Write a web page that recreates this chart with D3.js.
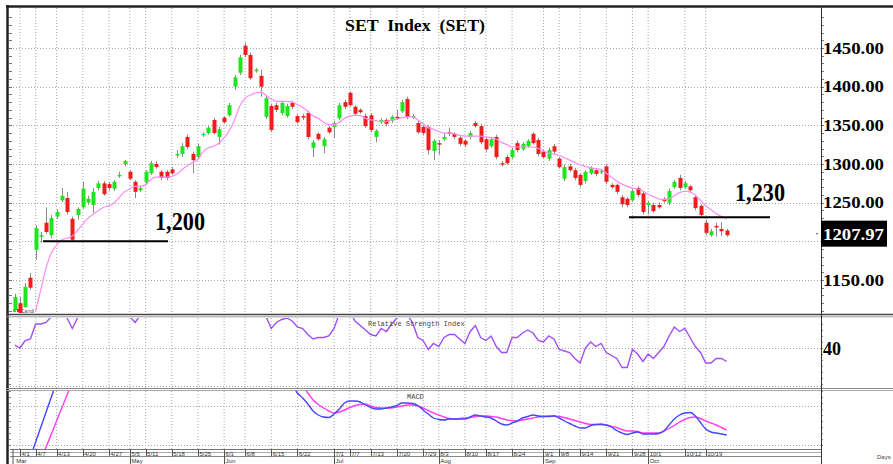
<!DOCTYPE html>
<html><head><meta charset="utf-8">
<script src="https://cdn.jsdelivr.net/npm/d3@7"></script>
<style>html,body{margin:0;padding:0;background:#fff;}svg{display:block;}</style>
</head><body>
<svg id="chart" width="893" height="464"></svg>
<script>
// ---------- DATA ----------
const opens = [1111,1120,1115,1153,1189,1206,1224,1208,1232,1253,1256,1229,1234,1244,1250,1247,1269,1275,1274,1268,
1285,1300,1290,1277,1266,1277,1288,1300,1290,1290,1293,1312,1313,1335,1313,1309,1338,1340,1357,1335,
1360,1363,1400,1418,1453,1441,1420,1414,1361,1375,1376,1366,1362,1379,1362,1362,1366,1321,1339,1323,
1347,1348,1359,1380,1392,1374,1370,1362,1363,1335,1354,1357,1356,1361,1368,1384,1361,1353,1348,1348,
1317,1327,1332,1341,1339,1334,1330,1335,1353,1349,1332,1323,1335,1301,1309,1309,1327,1319,1323,1339,
1331,1316,1307,1323,1307,1281,1297,1292,1286,1278,1288,1292,1290,1297,1273,1273,1257,1255,1253,1269,
1262,1247,1247,1247,1255,1250,1270,1282,1270,1271,1257,1246,1224,1208,1220,1216,1214];
const highs = [1132,1128,1146,1159,1221,1212,1244,1234,1241,1269,1264,1232,1244,1277,1259,1269,1278,1278,1277,1279,
1290,1305,1292,1279,1272,1292,1304,1304,1292,1292,1296,1318,1327,1338,1316,1326,1341,1349,1360,1348,
1362,1379,1415,1441,1457,1444,1424,1422,1388,1378,1379,1382,1378,1382,1365,1365,1369,1331,1341,1335,
1349,1356,1379,1383,1394,1376,1372,1365,1366,1345,1359,1359,1363,1370,1383,1387,1365,1356,1350,1350,
1332,1331,1340,1347,1341,1336,1332,1343,1356,1352,1335,1335,1338,1304,1312,1321,1330,1328,1332,1341,
1334,1318,1321,1326,1309,1299,1300,1295,1288,1292,1297,1295,1293,1300,1275,1275,1260,1257,1268,1271,
1265,1252,1250,1250,1257,1268,1279,1286,1278,1273,1260,1248,1228,1216,1224,1225,1216];
const lows = [1109,1106,1114,1137,1176,1198,1210,1204,1229,1251,1235,1200,1228,1242,1247,1237,1266,1259,1266,1265,
1282,1297,1279,1256,1264,1274,1286,1294,1279,1279,1286,1308,1309,1319,1288,1306,1335,1338,1338,1325,
1352,1361,1396,1415,1438,1409,1418,1387,1358,1341,1367,1363,1360,1371,1352,1357,1332,1309,1330,1314,
1339,1334,1357,1371,1374,1362,1365,1347,1341,1328,1352,1349,1353,1357,1366,1358,1358,1339,1337,1312,
1305,1312,1330,1336,1332,1323,1322,1332,1347,1326,1316,1321,1306,1297,1299,1306,1315,1317,1321,1325,
1310,1307,1304,1313,1294,1278,1290,1279,1270,1275,1286,1284,1287,1274,1268,1261,1244,1244,1251,1257,
1235,1235,1237,1242,1250,1247,1268,1266,1268,1263,1240,1232,1208,1206,1206,1207,1206];
const closes = [1128,1107,1141,1140,1217,1208,1212,1230,1238,1259,1238,1202,1242,1268,1255,1264,1275,1261,1269,1277,
1286,1304,1281,1264,1269,1290,1301,1296,1282,1282,1288,1313,1323,1322,1305,1323,1339,1347,1340,1345,
1354,1376,1412,1438,1441,1411,1422,1400,1385,1344,1370,1379,1375,1374,1354,1360,1335,1328,1332,1332,
1341,1353,1376,1374,1376,1365,1367,1349,1344,1343,1357,1352,1361,1359,1380,1361,1362,1341,1340,1318,
1330,1325,1335,1339,1335,1326,1325,1340,1349,1328,1319,1332,1309,1300,1301,1318,1318,1326,1330,1327,
1313,1309,1318,1316,1296,1296,1292,1282,1273,1290,1295,1287,1291,1277,1270,1264,1248,1247,1265,1260,
1238,1250,1239,1244,1252,1265,1277,1269,1275,1266,1243,1234,1211,1213,1218,1213,1207.97];
const movingAvg = [null,null,null,null,1110,1138,1166,1185,1195,1202,1204,1207,1214,1222,1230,1235,1240,1244,1246,1250,
1257,1264,1268,1271,1271,1273,1280,1283,1283,1283,1284,1287,1293,1298,1302,1306,1316,1321,1323,1327,
1334,1343,1357,1375,1385,1389,1392,1393,1389,1384,1381,1381,1381,1380,1377,1373,1368,1362,1359,1354,
1351,1351,1354,1359,1362,1363,1363,1359,1357,1356,1355,1355,1357,1358,1360,1361,1361,1357,1352,1347,
1345,1342,1340,1340,1339,1337,1336,1336,1336,1336,1335,1334,1332,1328,1325,1322,1322,1322,1322,1322,
1320,1317,1314,1313,1311,1308,1305,1302,1299,1297,1295,1294,1293,1288,1283,1278,1274,1271,1269,1268,
1265,1261,1258,1255,1254,1255,1259,1263,1265,1264,1260,1253,1246,1241,1236,1232,1229];
const rsiValues = [42,40,45,46,56,56,57,61,68,72,60,53,60,70,66,68,67,65,66,68,
72,66,61,57,62,66,66,65,64,63,63,67,69,70,66,68,72,73,70,72,
70,73,78,82,80,74,75,72,61,53,57,59,60,58,54,53,49,46,47,47,
48,53,63,65,64,58,55,52,49,48,53,51,56,60,64,62,57,47,45,39,
43,41,47,49,49,46,43,51,55,47,45,48,41,37,37,47,47,50,52,50,
45,44,48,46,39,38,37,33,30,40,44,41,43,37,35,33,27,27,39,36,
31,36,33,37,41,48,54,51,53,47,41,37,30,30,33,33,31];
const macdValues = [null,null,null,-16,-8.5,-1,6.5,14,21,27,31,34,36,38,39,40,40,40,39,39,
39,40,39,37,36,36,36,36,35,34,33,33,33,33,32,32,33,34,34,34,
34,35,38,42,44,43,42,40,37,33,30,27,24,20,16,13.5,10.5,7,5,4,
3.75,5.5,8,11,12,12,11.5,10,8.75,8,8,8.5,9,9.75,11,11,10.75,9.75,7.5,5.5,
3.5,2.75,2.5,3,3,3,3,4,5,4.5,4,3.5,2,0.5,0,1,2,3.5,4.25,5,
4.5,4.25,4.25,4.5,3.5,2,0.75,-0.5,-1.5,-1.5,-0.25,0.25,0.25,0,-1,-2.75,-4,-4.75,-4,-3.5,
-4.5,-4.5,-4.5,-4.25,-3,0,3,5,6,6.25,4.5,1.25,-2,-3.5,-4,-4.5,-5];
const signalValues = [null,null,null,null,null,-17,-11,-4.5,2,8.5,15,21.5,26,29,31,33,35,36,37,37,
38,38,38,38,37,37,36,36,36,35,35,34,34,33,33,33,33,33,33,34,
34,34,35,37,38,39,40,40,39,38,36,34,31,28,25,19.5,16,12.5,10.25,8.5,
7,6,6.5,7.5,8.75,9.75,10.25,10.5,9.5,8.75,8.5,8.5,8.5,9,9.5,10,10,9.5,8.5,7.25,
6,5,4,3.25,3,3.25,3.5,3.75,4.25,4.5,4.5,4.25,4,3.25,2.5,2.25,2,2.5,3,3.5,
4,4.25,4.5,4.5,4.25,3.75,3,2.25,1.5,0.75,0.25,0.25,0.5,0,-0.75,-1.25,-2.25,-3,-3,-3.25,
-4,-4,-4,-4,-3,-1.75,-0.25,1.5,2.75,3.75,4,3.25,2,1,0,-1.25,-2.5];
const dateTickIndex = [1,4,8,13,18,22,25,30,35,40,44,49,54,61,64,68,73,78,81,86,90,95,101,104,108,113,118,121,128,132];
const dateTickLabels = ["4/1","4/7","4/13","4/20","4/27","5/5","5/11","5/18","5/25","6/1","6/8","6/15","6/22","7/1","7/7","7/13","7/20","7/29","8/3","8/10","8/17","8/24","9/1","9/8","9/14","9/21","9/28","10/1","10/12","10/19"];
const monthTickIndex = [0,22,40,61,81,101,121];
const monthLabels = ["Mar","May","Jun","Jul","Aug","Sep","Oct"];
const priceGridValues = [1150,1200,1250,1300,1350,1400,1450];
const priceTickValues = [1150,1250,1300,1350,1400,1450];
const priceTickLabels = ["1150.00","1250.00","1300.00","1350.00","1400.00","1450.00"];
const lastCloseLabel = "1207.97";
const supportLevels = [1200,1230];
const supportLabels = ["1,200","1,230"];
const rsiTickValues = [40];
const rsiTickLabels = ["40"];
const titleText = "SET  Index  (SET)";

// ---------- LAYOUT ----------
const svg = d3.select("#chart");
const plotL = 10, plotR = 821;
const P = {top: 8, bottom: 313}, R = {top: 318, bottom: 388}, M = {top: 391, bottom: 449};
const n = closes.length;
const x = d3.scaleLinear().domain([0, n - 1]).range([14.7, 726.7]);
const yP = d3.scaleLinear().domain([1150, 1450]).range([280, 48]);
const yR = d3.scaleLinear().domain([14, 60]).range([387, 318]);
const yM = d3.scaleLinear().domain([-12, 17.5]).range([449, 390]);

const defs = svg.append("defs");
function clip(id, top, bottom) {
  defs.append("clipPath").attr("id", id).append("rect")
    .attr("x", plotL).attr("y", top).attr("width", plotR - plotL).attr("height", bottom - top);
}
clip("cp", P.top, P.bottom); clip("cr", R.top, R.bottom); clip("cm", M.top, M.bottom);

const gridColor = "#a8a8a8";
// vertical dotted gridlines
[[P.top, P.bottom], [R.top, R.bottom], [M.top, M.bottom]].forEach(([t, b]) => {
  svg.append("g").selectAll("line").data(dateTickIndex).join("line")
    .attr("x1", d => x(d)).attr("x2", d => x(d)).attr("y1", t).attr("y2", b)
    .attr("stroke", gridColor).attr("stroke-dasharray", "1,2").attr("stroke-width", 1);
});
// horizontal price gridlines
svg.append("g").selectAll("line").data(priceGridValues).join("line")
  .attr("x1", plotL).attr("x2", plotR).attr("y1", d => Math.round(yP(d)) + 0.5).attr("y2", d => Math.round(yP(d)) + 0.5)
  .attr("stroke", gridColor).attr("stroke-dasharray", "1,2");
// RSI gridlines
svg.append("g").selectAll("line").data([40, 14.7]).join("line")
  .attr("x1", plotL).attr("x2", plotR).attr("y1", d => Math.round(yR(d)) + 0.5).attr("y2", d => Math.round(yR(d)) + 0.5)
  .attr("stroke", gridColor).attr("stroke-dasharray", "1,2");
// MACD gridlines
svg.append("g").selectAll("line").data([9.5, -10]).join("line")
  .attr("x1", plotL).attr("x2", plotR).attr("y1", d => Math.round(yM(d)) + 0.5).attr("y2", d => Math.round(yM(d)) + 0.5)
  .attr("stroke", gridColor).attr("stroke-dasharray", "1,2");

// minor ticks on left and right price axes
const minorP = d3.range(1110, 1500, 10);
svg.append("g").selectAll("line").data(minorP).join("line")
  .attr("x1", 9).attr("x2", 12).attr("y1", d => Math.round(yP(d)) + 0.5).attr("y2", d => Math.round(yP(d)) + 0.5)
  .attr("stroke", "#777");
svg.append("g").selectAll("line").data(minorP).join("line")
  .attr("x1", plotR).attr("x2", plotR + 3).attr("y1", d => Math.round(yP(d)) + 0.5).attr("y2", d => Math.round(yP(d)) + 0.5)
  .attr("stroke", "#777");
svg.append("g").selectAll("line").data(d3.range(16, 60, 4)).join("line")
  .attr("x1", plotR).attr("x2", plotR + 2).attr("y1", d => Math.round(yR(d)) + 0.5).attr("y2", d => Math.round(yR(d)) + 0.5)
  .attr("stroke", "#888");
svg.append("g").selectAll("line").data(d3.range(-10, 18, 3)).join("line")
  .attr("x1", plotR).attr("x2", plotR + 2).attr("y1", d => Math.round(yM(d)) + 0.5).attr("y2", d => Math.round(yM(d)) + 0.5)
  .attr("stroke", "#888");
svg.append("g").selectAll("line").data(d3.range(16, 60, 4)).join("line")
  .attr("x1", 9).attr("x2", 11).attr("y1", d => Math.round(yR(d)) + 0.5).attr("y2", d => Math.round(yR(d)) + 0.5)
  .attr("stroke", "#888");
svg.append("g").selectAll("line").data(d3.range(-10, 18, 3)).join("line")
  .attr("x1", 9).attr("x2", 11).attr("y1", d => Math.round(yM(d)) + 0.5).attr("y2", d => Math.round(yM(d)) + 0.5)
  .attr("stroke", "#888");

// ---------- CANDLES ----------
const candles = d3.range(n).map(i => ({i, o: opens[i], h: highs[i], l: lows[i], c: closes[i]}));
const gc = svg.append("g").attr("clip-path", "url(#cp)");
gc.selectAll("line.w").data(candles).join("line").attr("class", "w")
  .attr("x1", d => Math.round(x(d.i)) + 0.5).attr("x2", d => Math.round(x(d.i)) + 0.5)
  .attr("y1", d => yP(d.h)).attr("y2", d => yP(d.l))
  .attr("stroke", "#8a8a8a").attr("stroke-width", 1);
gc.selectAll("rect").data(candles).join("rect")
  .attr("x", d => Math.round(x(d.i)) - 1.5).attr("width", 4)
  .attr("y", d => yP(Math.max(d.o, d.c)))
  .attr("height", d => Math.max(1.5, Math.abs(yP(d.o) - yP(d.c))))
  .attr("fill", d => d.c >= d.o ? "#1ee61e" : "#f21c1c");

// moving average
const maPts = movingAvg.map((v, i) => ({i, v}));
gc.append("path").datum(maPts)
  .attr("d", d3.line().defined(d => d.v != null).x(d => x(d.i)).y(d => yP(d.v)).curve(d3.curveMonotoneX))
  .attr("fill", "none").attr("stroke", "#ff8cf5").attr("stroke-width", 1.2);

// support lines
svg.append("line").attr("x1", 43).attr("x2", 168).attr("y1", yP(supportLevels[0])).attr("y2", yP(supportLevels[0]))
  .attr("stroke", "#000").attr("stroke-width", 2);
svg.append("line").attr("x1", 629).attr("x2", 770).attr("y1", yP(supportLevels[1]) - 1).attr("y2", yP(supportLevels[1]) - 1)
  .attr("stroke", "#000").attr("stroke-width", 2);
const serif = "'Liberation Serif','Times New Roman',serif";
svg.append("text").attr("x", 155).attr("y", 230).attr("font-family", serif).attr("font-weight", "bold")
  .attr("font-size", 25).attr("textLength", 50).attr("lengthAdjust", "spacingAndGlyphs").text(supportLabels[0]);
svg.append("text").attr("x", 735).attr("y", 201).attr("font-family", serif).attr("font-weight", "bold")
  .attr("font-size", 25).attr("textLength", 50).attr("lengthAdjust", "spacingAndGlyphs").text(supportLabels[1]);

// title
svg.append("text").attr("x", 345).attr("y", 31).attr("font-family", serif).attr("font-weight", "bold")
  .attr("font-size", 16).attr("textLength", 140).attr("lengthAdjust", "spacingAndGlyphs")
  .attr("xml:space", "preserve").style("white-space", "pre").text(titleText);

// legend stub
svg.append("rect").attr("x", 13).attr("y", 309).attr("width", 3).attr("height", 3).attr("fill", "#1ee61e");
svg.append("rect").attr("x", 17).attr("y", 309).attr("width", 3).attr("height", 3).attr("fill", "#f21c1c");
svg.append("text").attr("x", 21).attr("y", 313).attr("font-family", "Arial, 'Liberation Sans', sans-serif")
  .attr("font-size", 5).attr("fill", "#555").text("Candl");

// ---------- RSI ----------
const gr = svg.append("g").attr("clip-path", "url(#cr)");
gr.append("path").datum(rsiValues.map((v, i) => ({i, v})))
  .attr("d", d3.line().x(d => x(d.i)).y(d => yR(d.v)))
  .attr("fill", "none").attr("stroke", "#a24ef2").attr("stroke-width", 1.4);
svg.append("text").attr("x", 368).attr("y", 326).attr("font-family", "'Liberation Mono','DejaVu Sans Mono',monospace")
  .attr("font-size", 7).attr("fill", "#444").text("Relative Strength Index");

// ---------- MACD ----------
const gm = svg.append("g").attr("clip-path", "url(#cm)");
const macdLine = d3.line().defined(d => d.v != null).x(d => x(d.i)).y(d => yM(d.v)).curve(d3.curveMonotoneX);
gm.append("path").datum(signalValues.map((v, i) => ({i, v})))
  .attr("d", macdLine).attr("fill", "none").attr("stroke", "#ff3cf0").attr("stroke-width", 1.4);
gm.append("path").datum(macdValues.map((v, i) => ({i, v})))
  .attr("d", macdLine).attr("fill", "none").attr("stroke", "#4646ff").attr("stroke-width", 1.4);
svg.append("text").attr("x", 407).attr("y", 399).attr("font-family", "'Liberation Mono','DejaVu Sans Mono',monospace")
  .attr("font-size", 7).attr("fill", "#444").text("MACD");

// ---------- FRAME ----------
svg.append("line").attr("x1", 6).attr("x2", 893).attr("y1", 6.5).attr("y2", 6.5).attr("stroke", "#222").attr("stroke-width", 2.5);
svg.append("line").attr("x1", 7.5).attr("x2", 7.5).attr("y1", 5).attr("y2", 464).attr("stroke", "#222").attr("stroke-width", 2.5);
svg.append("line").attr("x1", 7).attr("x2", 893).attr("y1", 314.5).attr("y2", 314.5).attr("stroke", "#444").attr("stroke-width", 1.5);
svg.append("line").attr("x1", 7).attr("x2", 893).attr("y1", 316.8).attr("y2", 316.8).attr("stroke", "#999").attr("stroke-width", 1);
svg.append("line").attr("x1", 7).attr("x2", 893).attr("y1", 388.5).attr("y2", 388.5).attr("stroke", "#888").attr("stroke-width", 1);
svg.append("line").attr("x1", 7).attr("x2", 893).attr("y1", 390.5).attr("y2", 390.5).attr("stroke", "#aaa").attr("stroke-width", 1);
svg.append("line").attr("x1", plotL).attr("x2", plotR).attr("y1", 449.5).attr("y2", 449.5).attr("stroke", "#777");
svg.append("line").attr("x1", plotL).attr("x2", plotR).attr("y1", 452.5).attr("y2", 452.5).attr("stroke", "#aaa");
svg.append("line").attr("x1", plotL).attr("x2", plotR).attr("y1", 456.5).attr("y2", 456.5).attr("stroke", "#888");
svg.append("line").attr("x1", plotR + 0.5).attr("x2", plotR + 0.5).attr("y1", 6).attr("y2", 464).attr("stroke", "#333").attr("stroke-width", 1);

// ---------- AXES TEXT ----------
svg.append("g").selectAll("text").data(priceTickValues).join("text")
  .attr("x", 823).attr("y", d => yP(d) + 5.5)
  .attr("font-family", serif).attr("font-weight", "bold").attr("font-size", 16.5)
  .attr("textLength", 61).attr("lengthAdjust", "spacingAndGlyphs")
  .text((d, i) => priceTickLabels[i]);
const lastY = yP(closes[n - 1]) - 1.5;
svg.append("rect").attr("x", 821).attr("y", lastY - 13).attr("width", 66).attr("height", 26).attr("fill", "#000");
svg.append("text").attr("x", 823).attr("y", lastY + 6).attr("fill", "#fff")
  .attr("font-family", serif).attr("font-weight", "bold").attr("font-size", 16.5)
  .attr("textLength", 61).attr("lengthAdjust", "spacingAndGlyphs").text(lastCloseLabel);
svg.append("circle").attr("cx", 817).attr("cy", lastY).attr("r", 0.8).attr("fill", "#555");

svg.append("g").selectAll("text").data(rsiTickValues).join("text")
  .attr("x", 823).attr("y", d => yR(d) + 6.5)
  .attr("font-family", serif).attr("font-weight", "bold").attr("font-size", 18)
  .text((d, i) => rsiTickLabels[i]);

// date ticks
const sans = "Arial,'Liberation Sans',sans-serif";
svg.append("g").selectAll("line").data(dateTickIndex).join("line")
  .attr("x1", d => Math.round(x(d)) + 0.5).attr("x2", d => Math.round(x(d)) + 0.5).attr("y1", 449).attr("y2", 456.5)
  .attr("stroke", "#555");
svg.append("g").selectAll("text").data(dateTickIndex).join("text")
  .attr("x", d => x(d) + 1.5).attr("y", 455.5)
  .attr("font-family", sans).attr("font-size", 6).attr("fill", "#333")
  .text((d, i) => dateTickLabels[i]);
svg.append("g").selectAll("line").data(monthTickIndex).join("line")
  .attr("x1", d => Math.round(x(d)) - 2.5 * (d === 0)+ 0.5).attr("x2", d => Math.round(x(d)) - 2.5 * (d === 0) + 0.5)
  .attr("y1", 449).attr("y2", 464).attr("stroke", "#555");
svg.append("g").selectAll("text").data(monthTickIndex).join("text")
  .attr("x", d => x(d) + 1.5).attr("y", 462.5)
  .attr("font-family", sans).attr("font-size", 6).attr("fill", "#333")
  .text((d, i) => monthLabels[i]);
svg.append("text").attr("x", 877).attr("y", 459).attr("font-family", sans).attr("font-size", 6).attr("fill", "#444").text("Days");
</script>
</body></html>
